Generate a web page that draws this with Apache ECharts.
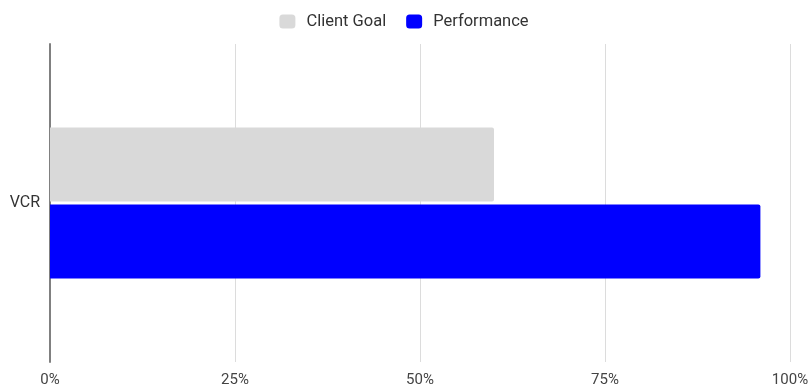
<!DOCTYPE html>
<html>
<head>
<meta charset="utf-8">
<script src="https://cdn.jsdelivr.net/npm/echarts@6/dist/echarts.min.js"></script>
<style>
  html, body { margin: 0; padding: 0; background: #fff; }
  #chart { width: 808px; height: 385px; }
</style>
</head>
<body>
<div id="chart"></div>
<script>
const categories = ["VCR"];
const clientGoal = [60];
const performance = [96];
const xTicks = [0, 25, 50, 75, 100];

const chart = echarts.init(document.getElementById("chart"));

const option = {
  animation: false,
  textStyle: { fontFamily: "Roboto" },
  legend: {
    top: 8,
    left: "center",
    itemWidth: 16,
    itemHeight: 14,
    itemGap: 20,
    textStyle: { fontSize: 16.5, color: "#333", fontFamily: "Roboto", padding: [0, 0, 0, 6] },
    data: ["Client Goal", "Performance"],
  },
  grid: {
    left: 50,
    right: 18,
    top: 44,
    bottom: 23,
    containLabel: false,
    outerBoundsMode: "none",
  },
  xAxis: {
    type: "value",
    min: xTicks[0],
    max: xTicks[xTicks.length - 1],
    interval: 25,
    axisLine: { show: false },
    axisTick: { show: false },
    splitLine: { lineStyle: { color: "#dcdcdc", width: 1 } },
    axisLabel: {
      formatter: "{value}%",
      color: "#444",
      fontSize: 15,
      margin: 11,
      fontFamily: "Roboto",
    },
  },
  yAxis: {
    type: "category",
    data: categories,
    inverse: true,
    axisLine: { show: true, lineStyle: { color: "#808080", width: 2 } },
    axisTick: { show: false },
    axisLabel: { color: "#333", fontSize: 16, margin: 10, fontFamily: "Roboto" },
  },
  series: [
    {
      name: "Client Goal",
      type: "bar",
      data: clientGoal,
      barWidth: 74,
      barGap: "4%",
      itemStyle: { color: "#d9d9d9", borderRadius: [0, 2, 2, 0] },
    },
    {
      name: "Performance",
      type: "bar",
      data: performance,
      barWidth: 74,
      barGap: "4%",
      itemStyle: { color: "#0000ff", borderRadius: [0, 2, 2, 0] },
    },
  ],
};

chart.setOption(option);
</script>
</body>
</html>
